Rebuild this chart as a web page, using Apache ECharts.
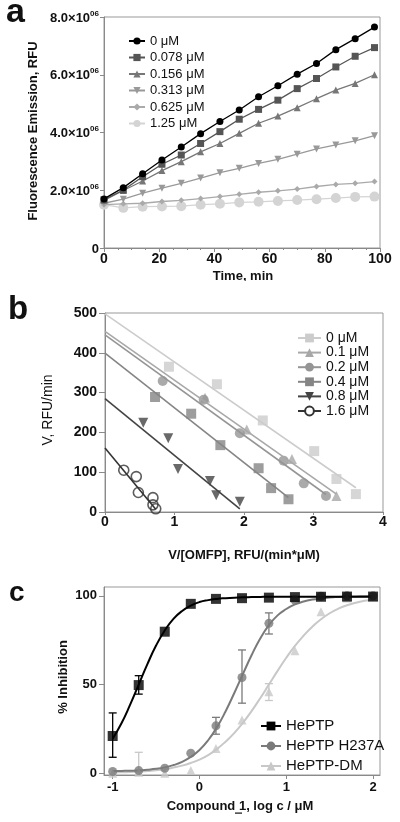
<!DOCTYPE html>
<html><head><meta charset="utf-8">
<script src="https://cdn.jsdelivr.net/npm/echarts@6/dist/echarts.min.js"></script>
<style>html,body{margin:0;padding:0;background:#fff}#c{width:400px;height:822px}</style>
</head><body><div id="c"></div>
<script>
// ---------- Panel a: fluorescence vs time (values in units of 10^6 RFU) ----------
const timeMin = [0,7,14,21,28,35,42,49,56,63,70,77,84,91,98];
const concA = ['0 μM','0.078 μM','0.156 μM','0.313 μM','0.625 μM','1.25 μM'];
const rfuA0     = [1.70,2.09,2.57,3.05,3.50,3.96,4.38,4.78,5.24,5.62,6.02,6.39,6.87,7.25,7.65];
const rfuA078   = [1.67,2.01,2.47,2.90,3.22,3.62,4.03,4.46,4.80,5.12,5.52,5.87,6.27,6.64,6.94];
const rfuA156   = [1.65,1.99,2.32,2.68,2.99,3.33,3.62,3.97,4.32,4.57,4.86,5.17,5.47,5.70,6.00];
const rfuA313   = [1.55,1.69,1.90,2.07,2.24,2.42,2.61,2.76,2.93,3.07,3.25,3.43,3.57,3.71,3.89];
const rfuA625   = [1.50,1.53,1.55,1.61,1.65,1.71,1.78,1.86,1.93,1.98,2.04,2.13,2.20,2.24,2.30];
const rfuA1250  = [1.50,1.39,1.43,1.44,1.45,1.50,1.53,1.58,1.60,1.63,1.66,1.69,1.73,1.77,1.78];

// ---------- Panel b: Eadie-Hofstee ----------
const concB = ['0 μM','0.1 μM','0.2 μM','0.4 μM','0.8 μM','1.6 μM'];
const ptsB0   = [[0.92,365],[1.61,321],[2.27,230],[3.01,153],[3.33,83],[3.61,45]];
const ptsB01  = [[1.44,287],[2.04,207],[2.69,133],[3.33,40]];
const ptsB02  = [[0.83,329],[1.42,282],[1.94,198],[2.57,129],[2.86,72],[3.18,40]];
const ptsB04  = [[0.72,289],[1.24,247],[1.66,168],[2.21,110],[2.39,60],[2.64,32]];
const ptsB08  = [[0.55,224],[0.91,185],[1.05,108],[1.51,78],[1.60,42],[1.94,26]];
const ptsB16  = [[0.27,105],[0.45,89],[0.48,49],[0.69,36],[0.69,18],[0.73,8]];
const fitB0   = [[0,498],[3.61,61]];
const fitB01  = [[0,454],[3.33,45]];
const fitB02  = [[0,445],[3.18,44]];
const fitB04  = [[0,399],[2.64,36]];
const fitB08  = [[0,285],[1.94,8]];
const fitB16  = [[0,161],[0.73,7]];

// ---------- Panel c: dose response ----------
const enzymes = ['HePTP','HePTP H237A','HePTP-DM'];
const logC   = [-1,-0.7,-0.4,-0.1,0.19,0.49,0.8,1.1,1.4,1.7,2.0];
const inhHe  = [21,49.7,79.8,95.5,98.3,98.7,99,99.3,99.5,99.6,99.6];
const inhH237= [1,1.5,2.8,11.3,26.7,54,84.5,97.7,99.8,100,100];
const inhDM  = [0,0.5,0,1.5,14,30,46,69,91,98.8,99.5];
const errHe  = [[-1,9,34],[-0.7,44.6,55]];
const errH237= [[0.19,22,31.5],[0.49,39.5,69.5],[0.8,78.5,90.4]];
const errDM  = [[-0.7,1.7,11.8],[0.8,41,50.5]];
const curveX = [-1,-0.9,-0.8,-0.7,-0.6,-0.5,-0.4,-0.3,-0.2,-0.1,0,0.1,0.2,0.3,0.4,0.5,0.6,0.7,0.8,0.9,1,1.1,1.2,1.3,1.4,1.5,1.6,1.7,1.8,1.9,2];
const curveHe  = [19.5,28,38.5,50,61.5,72,80.5,87,91.5,94.5,96.5,97.6,98.3,98.7,99,99.2,99.3,99.4,99.5,99.5,99.5,99.5,99.5,99.5,99.5,99.5,99.5,99.5,99.5,99.5,99.5];
const curveH237= [1.2,1.3,1.4,1.6,2.0,2.5,3.3,4.6,6.4,9.2,13.1,18.6,25.8,34.8,45.1,55.9,66.5,76,83.5,89,92.6,95.2,96.8,97.9,98.6,99.1,99.4,99.6,99.7,99.8,99.9];
const curveDM  = [0.4,0.5,0.7,0.9,1.3,1.7,2.3,3.2,4.3,5.8,7.7,10.2,13.6,17.8,22.6,28.4,35,42.3,50,57.7,65.1,71.8,77.6,82.6,86.8,90.2,92.8,94.7,96.1,97.2,98];

const FONT = 'Liberation Sans, Arial, Helvetica, sans-serif';
const zip = (xs, ys) => xs.map((x, i) => [x, ys[i]]);
const axisGray = '#8a8a8a';
const lbl = (size, extra) => Object.assign({color:'#111', fontWeight:'bold', fontSize:size, fontFamily:FONT}, extra||{});

function errRender(params, api){
  const x = api.value(0), lo = api.value(1), hi = api.value(2);
  const p1 = api.coord([x, lo]), p2 = api.coord([x, hi]);
  const w = 4;
  const style = {stroke: api.visual('color'), lineWidth: 1.3};
  return {type:'group', children:[
    {type:'line', shape:{x1:p1[0],y1:p1[1],x2:p2[0],y2:p2[1]}, style},
    {type:'line', shape:{x1:p1[0]-w,y1:p1[1],x2:p1[0]+w,y2:p1[1]}, style},
    {type:'line', shape:{x1:p2[0]-w,y1:p2[1],x2:p2[0]+w,y2:p2[1]}, style}
  ]};
}

const colA = ['#000000','#555555','#777777','#999999','#aaaaaa','#d4d4d4'];
const symA = ['circle','rect','triangle','triangle','diamond','circle'];
const rotA = [0,0,0,180,0,0];
const sizeA = [7,7,7,7,6,10];
const dataA = [rfuA0,rfuA078,rfuA156,rfuA313,rfuA625,rfuA1250];

const colB = ['#cccccc','#a8a8a8','#959595','#858585','#444444','#333333'];
const symB = ['rect','triangle','circle','rect','triangle','emptyCircle'];
const rotB = [0,0,0,0,180,0];
const ptsB = [ptsB0,ptsB01,ptsB02,ptsB04,ptsB08,ptsB16];
const fitB = [fitB0,fitB01,fitB02,fitB04,fitB08,fitB16];

const colC = ['#000000','#7a7a7a','#c8c8c8'];
const symC = ['rect','circle','triangle'];
const ptsC = [inhHe,inhH237,inhDM];
const curC = [curveHe,curveH237,curveDM];
const errC = [errHe,errH237,errDM];

const series = [];
for (let i = 5; i >= 0; i--) {
  series.push({type:'line', name:'a|'+concA[i], xAxisIndex:0, yAxisIndex:0,
    data: zip(timeMin, dataA[i]), symbol: symA[i], symbolRotate: rotA[i], symbolSize: sizeA[i],
    showSymbol:true, color: colA[i], lineStyle:{width:1.3, color: colA[i]}, itemStyle:{color: colA[i]}, z: 10-i});
}
for (let i = 0; i < 6; i++) {
  series.push({type:'line', name:'b|'+concB[i], xAxisIndex:1, yAxisIndex:1, data: fitB[i],
    symbol: symB[i], symbolRotate: rotB[i], showSymbol:false, color: colB[i],
    lineStyle:{width:1.6, color: colB[i]}, itemStyle:{color: colB[i]}});
  series.push({type:'scatter', name:'bp|'+concB[i], xAxisIndex:1, yAxisIndex:1, data: ptsB[i],
    symbol: symB[i]==='emptyCircle' ? 'circle' : symB[i], symbolRotate: rotB[i], symbolSize: 10,
    itemStyle: symB[i]==='emptyCircle' ? {color:'rgba(255,255,255,0)', borderColor: colB[i], borderWidth:1.6} : {color: colB[i]}});
}
for (let i = 2; i >= 0; i--) {
  series.push({type:'custom', name:'ce|'+enzymes[i], xAxisIndex:2, yAxisIndex:2, data: errC[i],
    renderItem: errRender, itemStyle:{color: colC[i]}, encode:{x:0, y:[1,2]}, z: 3});
  series.push({type:'line', name:'c|'+enzymes[i], xAxisIndex:2, yAxisIndex:2, data: zip(curveX, curC[i]),
    symbol: symC[i], showSymbol:false, smooth:true, color: colC[i], lineStyle:{width:2, color: colC[i]}, z: 4});
  series.push({type:'scatter', name:'cp|'+enzymes[i], xAxisIndex:2, yAxisIndex:2, data: zip(logC, ptsC[i]),
    symbol: symC[i], symbolSize: i===0 ? 10 : 9, itemStyle:{color: colC[i]}, z: 5});
}

const baseAxis = {
  axisLine:{show:true, onZero:false, lineStyle:{color:axisGray, width:1}},
  axisTick:{show:true, length:4, lineStyle:{color:axisGray}},
  splitLine:{show:false}
};
const legendFmt = name => name.split('|')[1];
const title = (text, x, y, rot, weight, size) => ({type:'text', x, y, rotation: rot||0, z:50,
  style:{text, font:(weight||'bold')+' '+(size||13)+'px '+FONT, fill:'#111', align:'center', verticalAlign:'middle'}});

const option = {
  animation:false,
  textStyle:{fontFamily:FONT},
  grid:[
    {left:104, top:17, width:276, height:231, show:true, borderColor:'#999', borderWidth:1},
    {left:105, top:313, width:278, height:199, show:true, borderColor:'#999', borderWidth:1},
    {left:104, top:587, width:276, height:188, show:true, borderColor:'#999', borderWidth:1}
  ],
  xAxis:[
    Object.assign({}, baseAxis, {gridIndex:0, type:'value', min:0, max:100, interval:20,
      minorTick:{show:true, splitNumber:4, length:2, lineStyle:{color:axisGray}},
      axisLabel:lbl(14,{margin:4})}),
    Object.assign({}, baseAxis, {gridIndex:1, type:'value', min:0, max:4, interval:1,
      axisTick:{show:true, length:3, lineStyle:{color:axisGray}},
      axisLabel:lbl(14,{margin:3})}),
    Object.assign({}, baseAxis, {gridIndex:2, type:'value', min:-1.1, max:2.08,
      axisTick:{show:true, length:4, lineStyle:{color:axisGray}, customValues:[-1,0,1,2]},
      axisLabel:lbl(13,{margin:6, customValues:[-1,0,1,2]})})
  ],
  yAxis:[
    Object.assign({}, baseAxis, {gridIndex:0, type:'value', min:0, max:8, interval:2,
      axisLabel:{margin:5, formatter: v => v===0 ? '{m|0}' : '{m|'+v.toFixed(1)+'×10}{s|06}',
        rich:{m:lbl(13,{lineHeight:15, verticalAlign:'bottom'}), s:lbl(8,{lineHeight:9, verticalAlign:'top'})}}}),
    Object.assign({}, baseAxis, {gridIndex:1, type:'value', min:0, max:500, interval:100,
      axisTick:{show:true, length:6, lineStyle:{color:axisGray}},
      axisLabel:lbl(14,{margin:8})}),
    Object.assign({}, baseAxis, {gridIndex:2, type:'value', min:-1, max:105,
      axisTick:{show:true, length:5, lineStyle:{color:axisGray}, customValues:[0,50,100]},
      axisLabel:lbl(13,{margin:7, customValues:[0,50,100]})})
  ],
  legend:[
    {orient:'vertical', left:123, top:29, itemWidth:16, itemHeight:9, itemGap:2.5, formatter:legendFmt,
     data: concA.map(c => 'a|'+c), textStyle:{fontSize:13, color:'#111', fontFamily:FONT, lineHeight:14}, selectedMode:false},
    {orient:'vertical', left:292, top:326, itemWidth:23, itemHeight:11, itemGap:0.6, formatter:legendFmt,
     data: concB.map(c => 'b|'+c), textStyle:{fontSize:14, color:'#111', fontFamily:FONT, lineHeight:14}, selectedMode:false},
    {orient:'vertical', left:255, top:713, itemWidth:20, itemHeight:11, itemGap:4, formatter:legendFmt,
     data: enzymes.map(c => 'c|'+c), textStyle:{fontSize:15, color:'#111', fontFamily:FONT, lineHeight:16}, selectedMode:false}
  ],
  graphic:[
    title('Time, min', 243, 276),
    {type:'rect', left:150, top:281, shape:{width:200, height:12}, style:{fill:'#fff'}, z:100},
    title('Fluorescence Emission, RFU', 33, 131, Math.PI/2),
    title('V, RFU/min', 48, 410, Math.PI/2, 'normal', 14),
    title('V/[OMFP], RFU/(min*μM)', 244, 555),
    title('% Inhibition', 63, 677, Math.PI/2),
    title('Compound 1, log c / μM', 240, 806),
    {type:'rect', x:235, y:812.5, shape:{width:7, height:1.2}, style:{fill:'#111'}, z:50},
    {type:'text', left:6, top:-4, style:{text:'a', font:'bold 34px '+FONT, fill:'#111'}},
    {type:'text', left:8, top:293, style:{text:'b', font:'bold 33px '+FONT, fill:'#111'}},
    {type:'text', left:9, top:579, style:{text:'c', font:'bold 28px '+FONT, fill:'#111'}}
  ],
  series
};
const chart = echarts.init(document.getElementById('c'), null, {renderer:'canvas'});
chart.setOption(option);
</script></body></html>
